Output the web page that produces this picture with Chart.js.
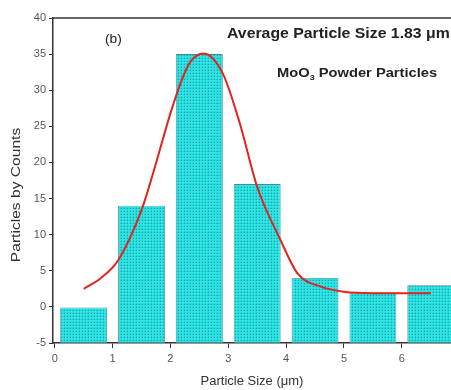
<!DOCTYPE html>
<html>
<head>
<meta charset="utf-8">
<script src="https://cdn.jsdelivr.net/npm/chart.js@4.4.0/dist/chart.umd.min.js"></script>
<style>
html, body { margin: 0; padding: 0; background: #fff; }
#wrap { width: 451px; height: 390px; }
</style>
</head>
<body>
<div id="wrap"><canvas id="chart"></canvas></div>
<script>
Chart.defaults.font.family = '"Liberation Sans", Arial, sans-serif'
Chart.defaults.color = '#444'

// histogram bins (centers, µm) and counts
const binCenters = [0.5, 1.5, 2.5, 3.5, 4.5, 5.5, 6.5]
const counts = [0, 14, 35, 17, 4, 2, 3]

// gaussian fit curve
const fitX = [0.5, 0.8, 1.1, 1.5, 1.7, 2.0, 2.2, 2.35, 2.57, 2.9, 3.2, 3.5, 3.9, 4.2, 4.6, 5.0, 5.5, 6.0, 6.5]
const fitY = [2.5, 4.0, 6.5, 13.4, 18.5, 26.8, 31.5, 34.0, 35.1, 32.4, 25.4, 16.6, 9.3, 4.6, 2.8, 2.1, 1.9, 1.9, 1.9]

const xTicks = [0, 1, 2, 3, 4, 5, 6]
const yMin = -5
const yMax = 40

const FONT = '"Liberation Sans", Arial, sans-serif'


function makePattern() {
    const c = document.createElement('canvas')
    c.width = 3
    c.height = 3
    const g = c.getContext('2d')
    g.fillStyle = '#2ee4e4'
    g.fillRect(0, 0, 3, 3)
    g.fillStyle = '#22cccf'
    g.fillRect(1, 0, 1, 1)
    g.fillRect(0, 1, 1, 1)
    g.fillStyle = '#18a2aa'
    g.fillRect(1, 1, 1, 1)
    return g.createPattern(c, 'repeat')
}


// text stretched wider like the scanned figure
function wideText(ctx, text, x, y, font, sx) {
    ctx.save()
    ctx.font = font
    ctx.translate(x, y)
    ctx.scale(sx, 1)
    ctx.fillText(text, 0, 0)
    const w = ctx.measureText(text).width * sx
    ctx.restore()
    return w
}


const frameAndText = {
    id: 'frameAndText',
    afterDraw(chart) {
        const { ctx, chartArea } = chart
        ctx.save()

        // top frame line
        ctx.strokeStyle = '#333'
        ctx.lineWidth = 1.5
        ctx.beginPath()
        ctx.moveTo(chartArea.left, chartArea.top)
        ctx.lineTo(chartArea.right, chartArea.top)
        ctx.stroke()

        ctx.fillStyle = '#222'
        ctx.textBaseline = 'alphabetic'
        ctx.textAlign = 'left'

        wideText(ctx, '(b)', 105, 43, '12px ' + FONT, 1.15)

        wideText(ctx, 'Average Particle Size 1.83 μm', 227, 38, 'bold 14px ' + FONT, 1.13)

        let x = 277
        x += wideText(ctx, 'MoO', x, 77, 'bold 13px ' + FONT, 1.13)
        x += wideText(ctx, '3', x, 80, 'bold 8px ' + FONT, 1.13)
        wideText(ctx, ' Powder Particles', x, 77, 'bold 13px ' + FONT, 1.13)

        // y axis title
        ctx.fillStyle = '#333'
        ctx.translate(20, 195)
        ctx.rotate(-Math.PI / 2)
        ctx.textAlign = 'center'
        ctx.scale(1.2, 1)
        ctx.font = '13px ' + FONT
        ctx.fillText('Particles by Counts', 0, 0)

        ctx.restore()
    }
}


const data = {
    datasets: [
        {
            type: 'line',
            data: fitX.map((x, i) => ({ x, y: fitY[i] })),
            borderColor: '#e3231f',
            borderWidth: 2,
            pointRadius: 0,
            cubicInterpolationMode: 'monotone',
            order: 0
        },
        {
            type: 'bar',
            data: binCenters.map((x, i) => ({ x, y: [yMin, counts[i]] })),
            backgroundColor: makePattern(),
            borderColor: '#4a8a95',
            borderWidth: 0.8,
            borderSkipped: false,
            barPercentage: 0.81,
            categoryPercentage: 1,
            order: 1
        }
    ]
}

const options = {
    animation: false,
    responsive: true,
    maintainAspectRatio: false,
    layout: { padding: { top: 18, right: 0, left: 0, bottom: 0 } },
    plugins: {
        legend: { display: false },
        tooltip: { enabled: false }
    },
    scales: {
        x: {
            type: 'linear',
            offset: false,
            min: -0.03,
            max: 6.85,
            afterBuildTicks: s => { s.ticks = xTicks.map(v => ({ value: v })) },
            afterFit: s => { s.height = 47 },
            ticks: { font: { size: 11 }, color: '#555', padding: 4 },
            grid: { offset: false, drawOnChartArea: false, tickLength: 5, color: '#333' },
            border: { color: '#333', width: 1.5 },
            title: { display: true, text: 'Particle Size (μm)', font: { size: 13 }, color: '#333', padding: { top: 7, bottom: 1 } }
        },
        y: {
            min: yMin,
            max: yMax,
            afterFit: s => { s.width = 53 },
            ticks: { stepSize: 5, font: { size: 11 }, color: '#555', padding: 3 },
            grid: { drawOnChartArea: false, tickLength: 4, color: '#333' },
            border: { color: '#333', width: 1.5 }
        }
    }
}

new Chart('chart', { type: 'bar', data, options, plugins: [frameAndText] })
</script>
</body>
</html>
